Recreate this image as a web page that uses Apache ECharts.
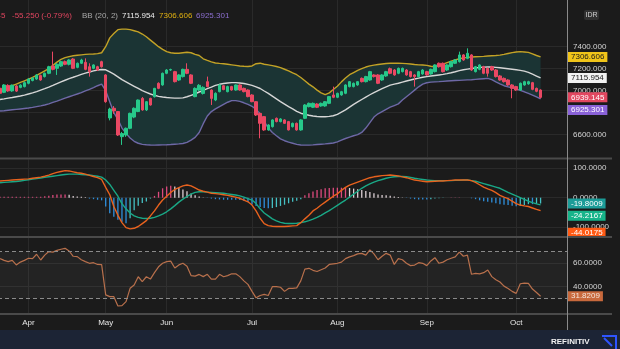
<!DOCTYPE html>
<html><head><meta charset="utf-8">
<script src="https://cdn.jsdelivr.net/npm/echarts@6/dist/echarts.min.js"></script>
<style>html,body{margin:0;padding:0;background:#1b1b1b;overflow:hidden}#c{width:620px;height:349px}</style>
</head><body><div id="c"></div><script>
const dates = [
'2022-03-23','2022-03-24','2022-03-25','2022-03-28','2022-03-29','2022-03-30','2022-03-31',
'2022-04-01','2022-04-04','2022-04-05','2022-04-06','2022-04-07','2022-04-08','2022-04-11','2022-04-12','2022-04-13','2022-04-14','2022-04-18','2022-04-19','2022-04-20','2022-04-21','2022-04-22','2022-04-25','2022-04-26','2022-04-27','2022-04-28',
'2022-05-09','2022-05-10','2022-05-11','2022-05-12','2022-05-13','2022-05-17','2022-05-18','2022-05-19','2022-05-20','2022-05-23','2022-05-24','2022-05-25','2022-05-27','2022-05-30','2022-05-31',
'2022-06-02','2022-06-03','2022-06-06','2022-06-07','2022-06-08','2022-06-09','2022-06-10','2022-06-13','2022-06-14','2022-06-15','2022-06-16','2022-06-17','2022-06-20','2022-06-21','2022-06-22','2022-06-23','2022-06-24','2022-06-27','2022-06-28','2022-06-29','2022-06-30',
'2022-07-01','2022-07-04','2022-07-05','2022-07-06','2022-07-07','2022-07-08','2022-07-11','2022-07-12','2022-07-13','2022-07-14','2022-07-15','2022-07-18','2022-07-19','2022-07-20','2022-07-21','2022-07-22','2022-07-25','2022-07-26','2022-07-27','2022-07-28','2022-07-29',
'2022-08-01','2022-08-02','2022-08-03','2022-08-04','2022-08-05','2022-08-08','2022-08-09','2022-08-10','2022-08-11','2022-08-12','2022-08-15','2022-08-16','2022-08-18','2022-08-19','2022-08-22','2022-08-23','2022-08-24','2022-08-25','2022-08-26','2022-08-29','2022-08-30','2022-08-31',
'2022-09-01','2022-09-02','2022-09-05','2022-09-06','2022-09-07','2022-09-08','2022-09-09','2022-09-12','2022-09-13','2022-09-14','2022-09-15','2022-09-16','2022-09-19','2022-09-20','2022-09-21','2022-09-22','2022-09-23','2022-09-26','2022-09-27','2022-09-28','2022-09-29','2022-09-30',
'2022-10-03','2022-10-04','2022-10-05','2022-10-06','2022-10-07','2022-10-10','2022-10-11'];

const open = [
7022,6985,7048,6998,7042,7030,7037,7067,7092,7106,
7137,7128,7158,7224,7203,7224,7264,7240,7288,7212,
7249,7258,7218,7203,7218,7264,7143,6752,6840,6810,
6582,6597,6658,6760,6810,6930,6825,6930,6945,7067,
7052,7158,7188,7173,7097,7128,7194,7143,6946,7006,
6975,7082,7006,6915,6991,7045,6991,7037,7006,7052,
7021,7006,6961,6900,6794,6764,6643,6673,6749,6719,
6734,6719,6673,6703,6643,6749,6855,6849,6879,6861,
6861,6885,6961,6940,6961,6976,7037,7037,7052,7112,
7082,7097,7143,7143,7097,7134,7200,7188,7158,7173,
7188,7173,7143,7128,7152,7173,7152,7173,7249,7249,
7188,7218,7249,7264,7325,7294,7325,7173,7194,7218,
7203,7218,7188,7134,7112,7097,7052,7037,7006,7052,
7061,7073,7021,7006];
const high = [
7035,7060,7058,7056,7050,7058,7085,7112,7122,7150,
7146,7165,7226,7355,7250,7270,7274,7286,7296,7256,
7290,7294,7249,7240,7226,7272,7150,6845,6860,6815,
6625,6665,6800,6848,6920,6942,6905,6936,7026,7076,
7165,7196,7200,7180,7150,7200,7249,7150,7030,7060,
7040,7128,7012,6985,7058,7050,7045,7044,7056,7058,
7028,7012,6968,6905,6800,6770,6695,6740,6756,6750,
6740,6725,6710,6710,6740,6878,6892,6892,6886,6892,
6906,6952,7037,6982,6998,7058,7088,7074,7088,7120,
7135,7180,7150,7150,7150,7180,7210,7196,7210,7210,
7196,7180,7150,7180,7196,7180,7200,7240,7256,7256,
7240,7270,7286,7355,7332,7385,7332,7225,7240,7226,
7210,7226,7196,7142,7120,7104,7060,7044,7074,7090,
7090,7080,7028,7012];
const low = [
6968,6978,6990,6990,6988,7022,7030,7058,7085,7098,
7090,7120,7150,7185,7143,7216,7232,7230,7196,7204,
7242,7186,7128,7195,7180,7210,6890,6730,6790,6588,
6507,6580,6650,6750,6805,6818,6815,6864,6938,7014,
7045,7150,7180,7075,7090,7120,7150,7060,6940,6998,
6965,7030,6870,6905,6985,7004,6985,7000,7000,7000,
6985,6940,6895,6770,6567,6635,6636,6665,6712,6712,
6697,6638,6665,6636,6636,6742,6848,6842,6842,6854,
6854,6878,6932,6932,6954,6968,7030,7030,7045,7075,
7075,7090,7120,7060,7090,7126,7150,7136,7150,7166,
7136,7120,7037,7120,7145,7136,7145,7166,7210,7166,
7180,7210,7242,7256,7272,7286,7180,7166,7186,7150,
7128,7180,7120,7090,7074,7045,6931,6998,6998,7045,
7054,7004,6986,6930];
const close = [
6976,7052,6998,7050,6996,7050,7073,7106,7115,7143,
7097,7158,7218,7194,7240,7264,7240,7279,7203,7249,
7279,7194,7173,7234,7188,7218,6900,6833,6816,6597,
6610,6658,6794,6840,6915,6825,6900,6870,7021,7021,
7158,7188,7192,7082,7143,7194,7158,7067,7021,7049,
7030,7037,6930,6976,7052,7010,7037,7006,7052,7006,
6991,6946,6900,6779,6703,6643,6688,6734,6719,6743,
6703,6643,6703,6643,6734,6870,6885,6885,6849,6885,
6900,6946,6940,6976,6991,7052,7082,7067,7082,7082,
7128,7173,7128,7067,7143,7173,7158,7143,7203,7203,
7143,7128,7128,7173,7188,7143,7194,7234,7218,7173,
7234,7264,7279,7325,7279,7340,7188,7218,7234,7158,
7158,7188,7128,7097,7082,7052,7021,7006,7067,7082,
7082,7012,6994.395,6939.145];

const bbUpper = [
7005,7015,7030,7045,7060,7075,7090,7105,7120,7140,7160,7180,7200,7230,7260,7285,7300,7310,7318,7322,7326,7330,7332,7334,7337,7345,
7400,7480,7520,7555,7560,7560,7555,7545,7535,7515,7490,7460,7430,7400,7375,7355,7345,7340,7340,7345,7350,7345,7330,
7320,7290,7275,7262,7252,7248,7245,7240,7235,7230,7225,7222,7220,7225,7245,7250,7240,7235,7228,7220,7210,7195,7180,7162,7145,7120,7090,7060,7035,7005,6980,6965,6980,7010,7040,7080,7115,7145,7165,7185,7200,7215,7225,7232,7238,7243,7247,7249,7250,7250,
7248,7246,7242,7238,7235,7234,7230,7222,7218,7228,7242,7255,7268,7280,7290,7298,7303,7306,7308,7310,7312,7315,7318,7320,7323,7330,7338,7346,7352,7355,7352,7348,7335,7320,7306.606];
const bbMid = [
6920,6925,6932,6938,6945,6952,6960,6970,6980,6992,7005,7018,7032,7048,7065,7080,7095,7110,7122,7135,7148,7160,7170,7180,7188,7193,7190,7170,7150,7125,7100,7080,7060,7040,7020,7000,6985,6970,6958,6948,6942,6938,6935,6932,6932,6935,6945,6958,6970,
6988,7003,7018,7032,7048,7058,7065,7070,7073,7073,7070,7065,7057,7048,7035,7020,6997,6975,6950,6925,6900,6878,6855,6835,6812,6795,6785,6777,6770,6765,6763,6763,6766,6772,6785,6805,6825,6850,6875,6898,6920,6942,6963,6982,7000,7018,7035,7050,7060,7068,
7078,7088,7097,7106,7114,7122,7128,7133,7138,7143,7148,7155,7163,7172,7182,7190,7196,7202,7207,7211,7214,7216,7215,7212,7208,7204,7200,7195,7190,7185,7178,7166,7150,7133,7115.954];
const bbLower = [
6815,6818,6822,6826,6830,6834,6838,6842,6848,6855,6862,6870,6880,6893,6905,6918,6932,6945,6958,6970,6983,6998,7012,7028,7045,7060,7000,6900,6800,6740,6660,6612,6570,6540,6522,6512,6508,6506,6505,6506,6507,6508,6510,6513,6516,6520,6530,6550,6575,
6620,6700,6770,6810,6835,6855,6875,6895,6910,6910,6903,6890,6875,6858,6830,6790,6720,6660,6620,6590,6562,6545,6532,6522,6512,6506,6505,6505,6507,6510,6513,6516,6520,6524,6535,6550,6565,6578,6590,6600,6620,6660,6710,6760,6790,6810,6830,6850,6865,6880,
6915,6945,6975,7005,7035,7060,7072,7078,7080,7082,7085,7088,7090,7092,7094,7096,7098,7100,7103,7106,7109,7112,7100,7080,7062,7045,7035,7025,7015,7003,6990,6975,6960,6943,6925.301];

const macdLine = [
57,58,59,60,61,62,63,64,66,68,70,73,77,82,86,89,92,91,88,85,83,80,76,72,68,62,
35,10,-30,-60,-85,-102,-106,-104,-98,-88,-78,-62,-45,-25,-8,5,18,28,34,40,43,40,33,
26,22,19,15,14,12,10,8,5,2,-2,-8,-14,-25,-45,-70,-88,-95,-97,-98,-98,-98,-97,-96,-95,-85,-72,-60,-45,-36,-25,-15,-5,5,13,25,35,43,48,53,58,63,68,71,73,75,76,77,76,74,
71,68,64,60,58,56,54,55,56,57,57,58,59,60,60,60,60,58,52,44,36,30,25,17,8,2,-3,-12,-20,-25,-28,-30,-35,-40,-44.0175];
const signalLine = [
51,52,53,54,55,57,59,61,63,65,67,69,71,73,75,77,79,80,80,80,79,78,77,75,73,70,
60,45,25,5,-20,-38,-52,-62,-67,-70,-71,-70,-67,-62,-56,-48,-38,-27,-15,-5,4,12,18,
20,20,19,18,17,16,15,13,11,9,6,2,-3,-8,-20,-38,-52,-62,-72,-79,-84,-87,-88,-88,-87,-85,-82,-78,-73,-67,-60,-52,-44,-35,-26,-17,-8,2,12,22,32,40,47,53,58,62,66,69,71,72,
72,71,69,66,64,62,60,59,58,58,58,58,58,59,59,60,60,58,56,52,48,44,40,36,32,25,18,12,6,0,-6,-12,-17,-21,-24.2167];
const macdHist = [
3,3,3,3,3,3,3,3,3,3,3,5,7,9,11,11,11,10,6,4,3,2,-3,-5,-7,-9,
-30,-53,-65,-75,-82,-87,-70,-43,-27,-18,-13,-3,6,20,32,38,41,38,34,28,22,14,8,
4,1,-1,-3,-5,-6,-7,-7,-7,-7,-8,-10,-15,-22,-28,-32,-35,-36,-35,-32,-28,-24,-19,-14,-10,-5,8,15,21,26,29,32,33,34,34,34,34,33,31,29,26,23,19,15,11,9,8,7,4,2,
1,-1,-3,-5,-6,-6,-6,-5,-3,-2,-1,0,1,1,1,0,0,-2,-5,-9,-12,-14,-16,-19,-22,-24,-25,-27,-29,-28,-25,-22,-22,-21,-19.8009];
const rsi = [
64,62.5,61.4,62.5,58.6,61,62.5,64.3,64,67.7,62.8,67,70,69.5,71,72,72.8,70.5,66,65.7,63,61.4,60,60.5,59,58.8,
33,31.5,31.5,23.5,23.8,27.2,38.6,41.5,48.5,44.3,48.5,46.5,52,57,60,61.4,61.8,56,58.6,60,57.5,49.5,49,
50.5,48.6,50.6,46.5,46.5,50.6,48.5,49.5,51,51,48.6,45,42,36,30.5,32.5,33.5,32.5,40,40,39.5,36,38.5,38.5,39,45,55,55.7,54,53,54.5,56,59,59.5,60,61,64,65.5,66.5,68,68.5,67,71.4,68,63,66,68.5,67,59,64,
63,60,58,58.5,60.5,60,58,62,64.8,60,61,63,64.3,65.5,69.5,66,67,50.6,51.4,51,52,54.3,48.6,46,44,40.5,38.5,36,34.3,42.5,43,42.8,38,35,31.8209];

const priceTicks = [6600, 6800, 7000, 7200, 7400];
const macdTicks = [-100, 0, 100];
const rsiTicks = [40, 60];
const rsiBands = [30, 70];
const monthNames = ['Jan','Feb','Mar','Apr','May','Jun','Jul','Aug','Sep','Oct','Nov','Dec'];

const N = dates.length;
const FONT = '"Liberation Sans", Arial, sans-serif';
const FS = 8;
const monthStarts = [];
for (let i = 1; i < N; i++) if (dates[i].slice(0, 7) !== dates[i - 1].slice(0, 7)) monthStarts.push(i);
const isMonthStart = (i) => monthStarts.indexOf(i) >= 0;

const col = {
  bg: '#1b1b1b', grid: '#2a2a2a', up: '#27c88a', down: '#ea4863',
  upper: '#c3a226', mid: '#d6d6d6', lower: '#6e68a6', band: '#1b3434',
  macd: '#e8621e', signal: '#1aa886', rsi: '#b8704c', axisText: '#d4d4d4'
};

function tag(value, digits, bg, fg, shift) {
  return {
    yAxis: value,
    lineStyle: { color: 'rgba(0,0,0,0)' },
    label: {
      show: true, position: 'end', distance: 1,
      padding: [2 * (shift || 0), 0, 0, 0],
      formatter: (p) => '{t|' + Number(p.value).toFixed(digits) + '}',
      rich: { t: { backgroundColor: bg, color: fg, padding: [1, 3, 1, 3], fontSize: FS, fontFamily: FONT, lineHeight: 10 } }
    }
  };
}
function markLines(items) {
  return { symbol: 'none', silent: true, animation: false, precision: 6, data: items };
}

const xAxisBase = (gi, showLabels) => ({
  type: 'category', gridIndex: gi, data: dates, max: N + 5, boundaryGap: true,
  axisLine: { show: false }, axisTick: { show: false },
  axisLabel: {
    show: showLabels, interval: (i) => isMonthStart(i), margin: 5,
    formatter: (v) => (v ? monthNames[parseInt(v.slice(5, 7), 10) - 1] : ''),
    color: '#e6e6e6', fontSize: FS, fontFamily: FONT
  },
  splitLine: { show: true, interval: (i) => isMonthStart(i), alignWithLabel: true, lineStyle: { color: col.grid, width: 1 } }
});
const yAxisBase = (gi, min, max, ticks, digits) => ({
  type: 'value', gridIndex: gi, position: 'right', min: min, max: max, scale: true,
  axisLine: { show: false },
  axisTick: { show: false, customValues: ticks },
  axisLabel: { customValues: ticks, margin: 6, color: col.axisText, fontSize: FS, fontFamily: FONT,
    formatter: (v) => Number(v).toFixed(digits) },
  splitLine: { show: true, lineStyle: { color: col.grid, width: 1 } }
});

const candleData = dates.map((d, i) => [open[i], close[i], low[i], high[i]]);

const last = N - 1;
const chg = close[last] - close[last - 1];
const pct = chg / close[last - 1] * 100;

const txt = (text, x, y, fill, extra) => Object.assign({
  type: 'text', x: x, y: y, silent: true,
  style: { text: text, fill: fill, font: FS + 'px ' + FONT, align: 'left', verticalAlign: 'middle', textAlign: 'left', textVerticalAlign: 'middle' }
}, extra || {});

const chart = echarts.init(document.getElementById('c'), null, { renderer: 'canvas' });
chart.setOption({
  backgroundColor: col.bg,
  animation: false,
  grid: [
    { left: -2, right: 53, top: 0, height: 157, outerBoundsMode: 'none', containLabel: false },
    { left: -2, right: 53, top: 159.5, height: 77, outerBoundsMode: 'none', containLabel: false },
    { left: -2, right: 53, top: 238, height: 75.5, outerBoundsMode: 'none', containLabel: false }
  ],
  xAxis: [xAxisBase(0, false), xAxisBase(1, false), xAxisBase(2, true)],
  yAxis: [
    yAxisBase(0, 6397, 7824.5, priceTicks, 3),
    yAxisBase(1, -132, 129.9, macdTicks, 4),
    yAxisBase(2, 17.1, 81.6, rsiTicks, 4)
  ],
  series: [
    {
      type: 'custom', xAxisIndex: 0, yAxisIndex: 0, data: [[0, bbMid[0]]], z: 1, silent: true, clip: true,
      renderItem: (params, api) => {
        const pts = [];
        for (let i = 0; i < N; i++) pts.push(api.coord([i, bbUpper[i]]));
        for (let i = N - 1; i >= 0; i--) pts.push(api.coord([i, bbLower[i]]));
        return { type: 'polygon', shape: { points: pts }, style: { fill: col.band } };
      }
    },
    { type: 'line', name: 'upper', xAxisIndex: 0, yAxisIndex: 0, data: bbUpper, symbol: 'none', z: 3, clip: false,
      lineStyle: { color: col.upper, width: 1.4 },
      markLine: markLines([tag(bbUpper[last], 3, '#f0c419', '#1a1a1a', 0)]) },
    { type: 'line', name: 'mid', xAxisIndex: 0, yAxisIndex: 0, data: bbMid, symbol: 'none', z: 3, clip: false,
      lineStyle: { color: col.mid, width: 1.4 },
      markLine: markLines([tag(bbMid[last], 3, '#f2f2f2', '#1a1a1a', 0)]) },
    { type: 'line', name: 'lower', xAxisIndex: 0, yAxisIndex: 0, data: bbLower, symbol: 'none', z: 3, clip: false,
      lineStyle: { color: col.lower, width: 1.4 },
      markLine: markLines([tag(bbLower[last], 3, '#8a62d8', '#ffffff', 11)]) },
    { type: 'candlestick', xAxisIndex: 0, yAxisIndex: 0, data: candleData, barWidth: 3, z: 4, clip: false,
      itemStyle: { color: col.up, color0: col.down, borderColor: col.up, borderColor0: col.down, borderWidth: 1 },
      markLine: markLines([tag(close[last], 3, '#e24760', '#ffffff', 0)]) },

    { type: 'bar', xAxisIndex: 1, yAxisIndex: 1, data: macdHist, barWidth: 1.3, z: 2, clip: false,
      itemStyle: { color: (p) => {
        const i = p.dataIndex, v = macdHist[i], pv = i > 0 ? macdHist[i - 1] : v;
        if (v >= 0) return v >= pv ? '#de4a7e' : '#dccfd4';
        return v <= pv ? '#2f8fdc' : '#45c0c4';
      } },
      markLine: markLines([tag(macdHist[last], 4, '#1c9c98', '#ffffff', 0)]) },
    { type: 'line', xAxisIndex: 1, yAxisIndex: 1, data: signalLine, symbol: 'none', z: 3, clip: false,
      lineStyle: { color: col.signal, width: 1.4 },
      markLine: markLines([tag(signalLine[last], 4, '#17b48a', '#ffffff', 11)]) },
    { type: 'line', xAxisIndex: 1, yAxisIndex: 1, data: macdLine, symbol: 'none', z: 3, clip: false,
      lineStyle: { color: col.macd, width: 1.4 },
      markLine: markLines([tag(macdLine[last], 4, '#ff5a14', '#ffffff', 22)]) },

    { type: 'line', xAxisIndex: 2, yAxisIndex: 2, data: rsi, symbol: 'none', z: 3, clip: false,
      lineStyle: { color: col.rsi, width: 1.2 },
      markArea: { silent: true, itemStyle: { color: 'rgba(255,255,255,0.035)' },
        data: [[{ yAxis: rsiBands[0] }, { yAxis: rsiBands[1] }]] },
      markLine: markLines([
        { yAxis: rsiBands[1], lineStyle: { color: '#8a8a8a', type: [4, 3], width: 1 }, label: { show: false } },
        { yAxis: rsiBands[0], lineStyle: { color: '#8a8a8a', type: [4, 3], width: 1 }, label: { show: false } },
        tag(rsi[last], 4, '#c8693c', '#f4e6dc', 0)
      ]) }
  ],
  graphic: [
    { type: 'rect', silent: true, z: 100, shape: { x: 0, y: 330, width: 620, height: 19 }, style: { fill: '#1c2435' } },
    { type: 'line', silent: true, z: 100, shape: { x1: 0, y1: 158.5, x2: 612, y2: 158.5 }, style: { stroke: '#4a4a4a', lineWidth: 2 } },
    { type: 'line', silent: true, z: 100, shape: { x1: 0, y1: 237, x2: 612, y2: 237 }, style: { stroke: '#4a4a4a', lineWidth: 2 } },
    { type: 'line', silent: true, z: 100, shape: { x1: 0, y1: 314, x2: 612, y2: 314 }, style: { stroke: '#4a4a4a', lineWidth: 2 } },
    { type: 'line', silent: true, z: 100, shape: { x1: 567.5, y1: 0, x2: 567.5, y2: 330 }, style: { stroke: '#8a8a8a', lineWidth: 1 } },
    { type: 'rect', silent: true, z: 100, shape: { x: 584, y: 10, width: 15, height: 10, r: 2 }, style: { fill: '#303030' } },
    txt('IDR', 591.5, 15.5, '#d0d0d0', { z: 101, style: { text: 'IDR', fill: '#d0d0d0', font: '7px ' + FONT, align: 'center', verticalAlign: 'middle', textAlign: 'center', textVerticalAlign: 'middle' } }),
    txt(close[last].toFixed(3), 5.5, 16, '#e0455f', { z: 101, style: { text: close[last].toFixed(3), fill: '#e0455f', font: FS + 'px ' + FONT, align: 'right', verticalAlign: 'middle', textAlign: 'right', textVerticalAlign: 'middle' } }),
    txt(chg.toFixed(3) + ' (' + pct.toFixed(2) + '%)', 12, 16, '#e0455f', { z: 101 }),
    txt('BB (20, 2)', 82, 16, '#a8a8a8', { z: 101 }),
    txt(bbMid[last].toFixed(3), 122, 16, '#ececec', { z: 101 }),
    txt(bbUpper[last].toFixed(3), 159, 16, '#e0b010', { z: 101 }),
    txt(bbLower[last].toFixed(3), 196, 16, '#8c6fd0', { z: 101 }),
    { type: 'text', silent: true, z: 101, x: 551, y: 341.5, style: { text: 'REFINITIV', fill: '#f2f2f2', font: 'bold 8px ' + FONT, align: 'left', verticalAlign: 'middle', textAlign: 'left', textVerticalAlign: 'middle' } },
    { type: 'polyline', silent: true, z: 101, shape: { points: [[602, 336], [616, 336], [616, 349]] }, style: { stroke: '#2f55ff', lineWidth: 2, fill: null } },
    { type: 'line', silent: true, z: 101, shape: { x1: 604, y1: 338, x2: 612, y2: 346 }, style: { stroke: '#2f55ff', lineWidth: 2 } }
  ]
});
</script></body></html>
